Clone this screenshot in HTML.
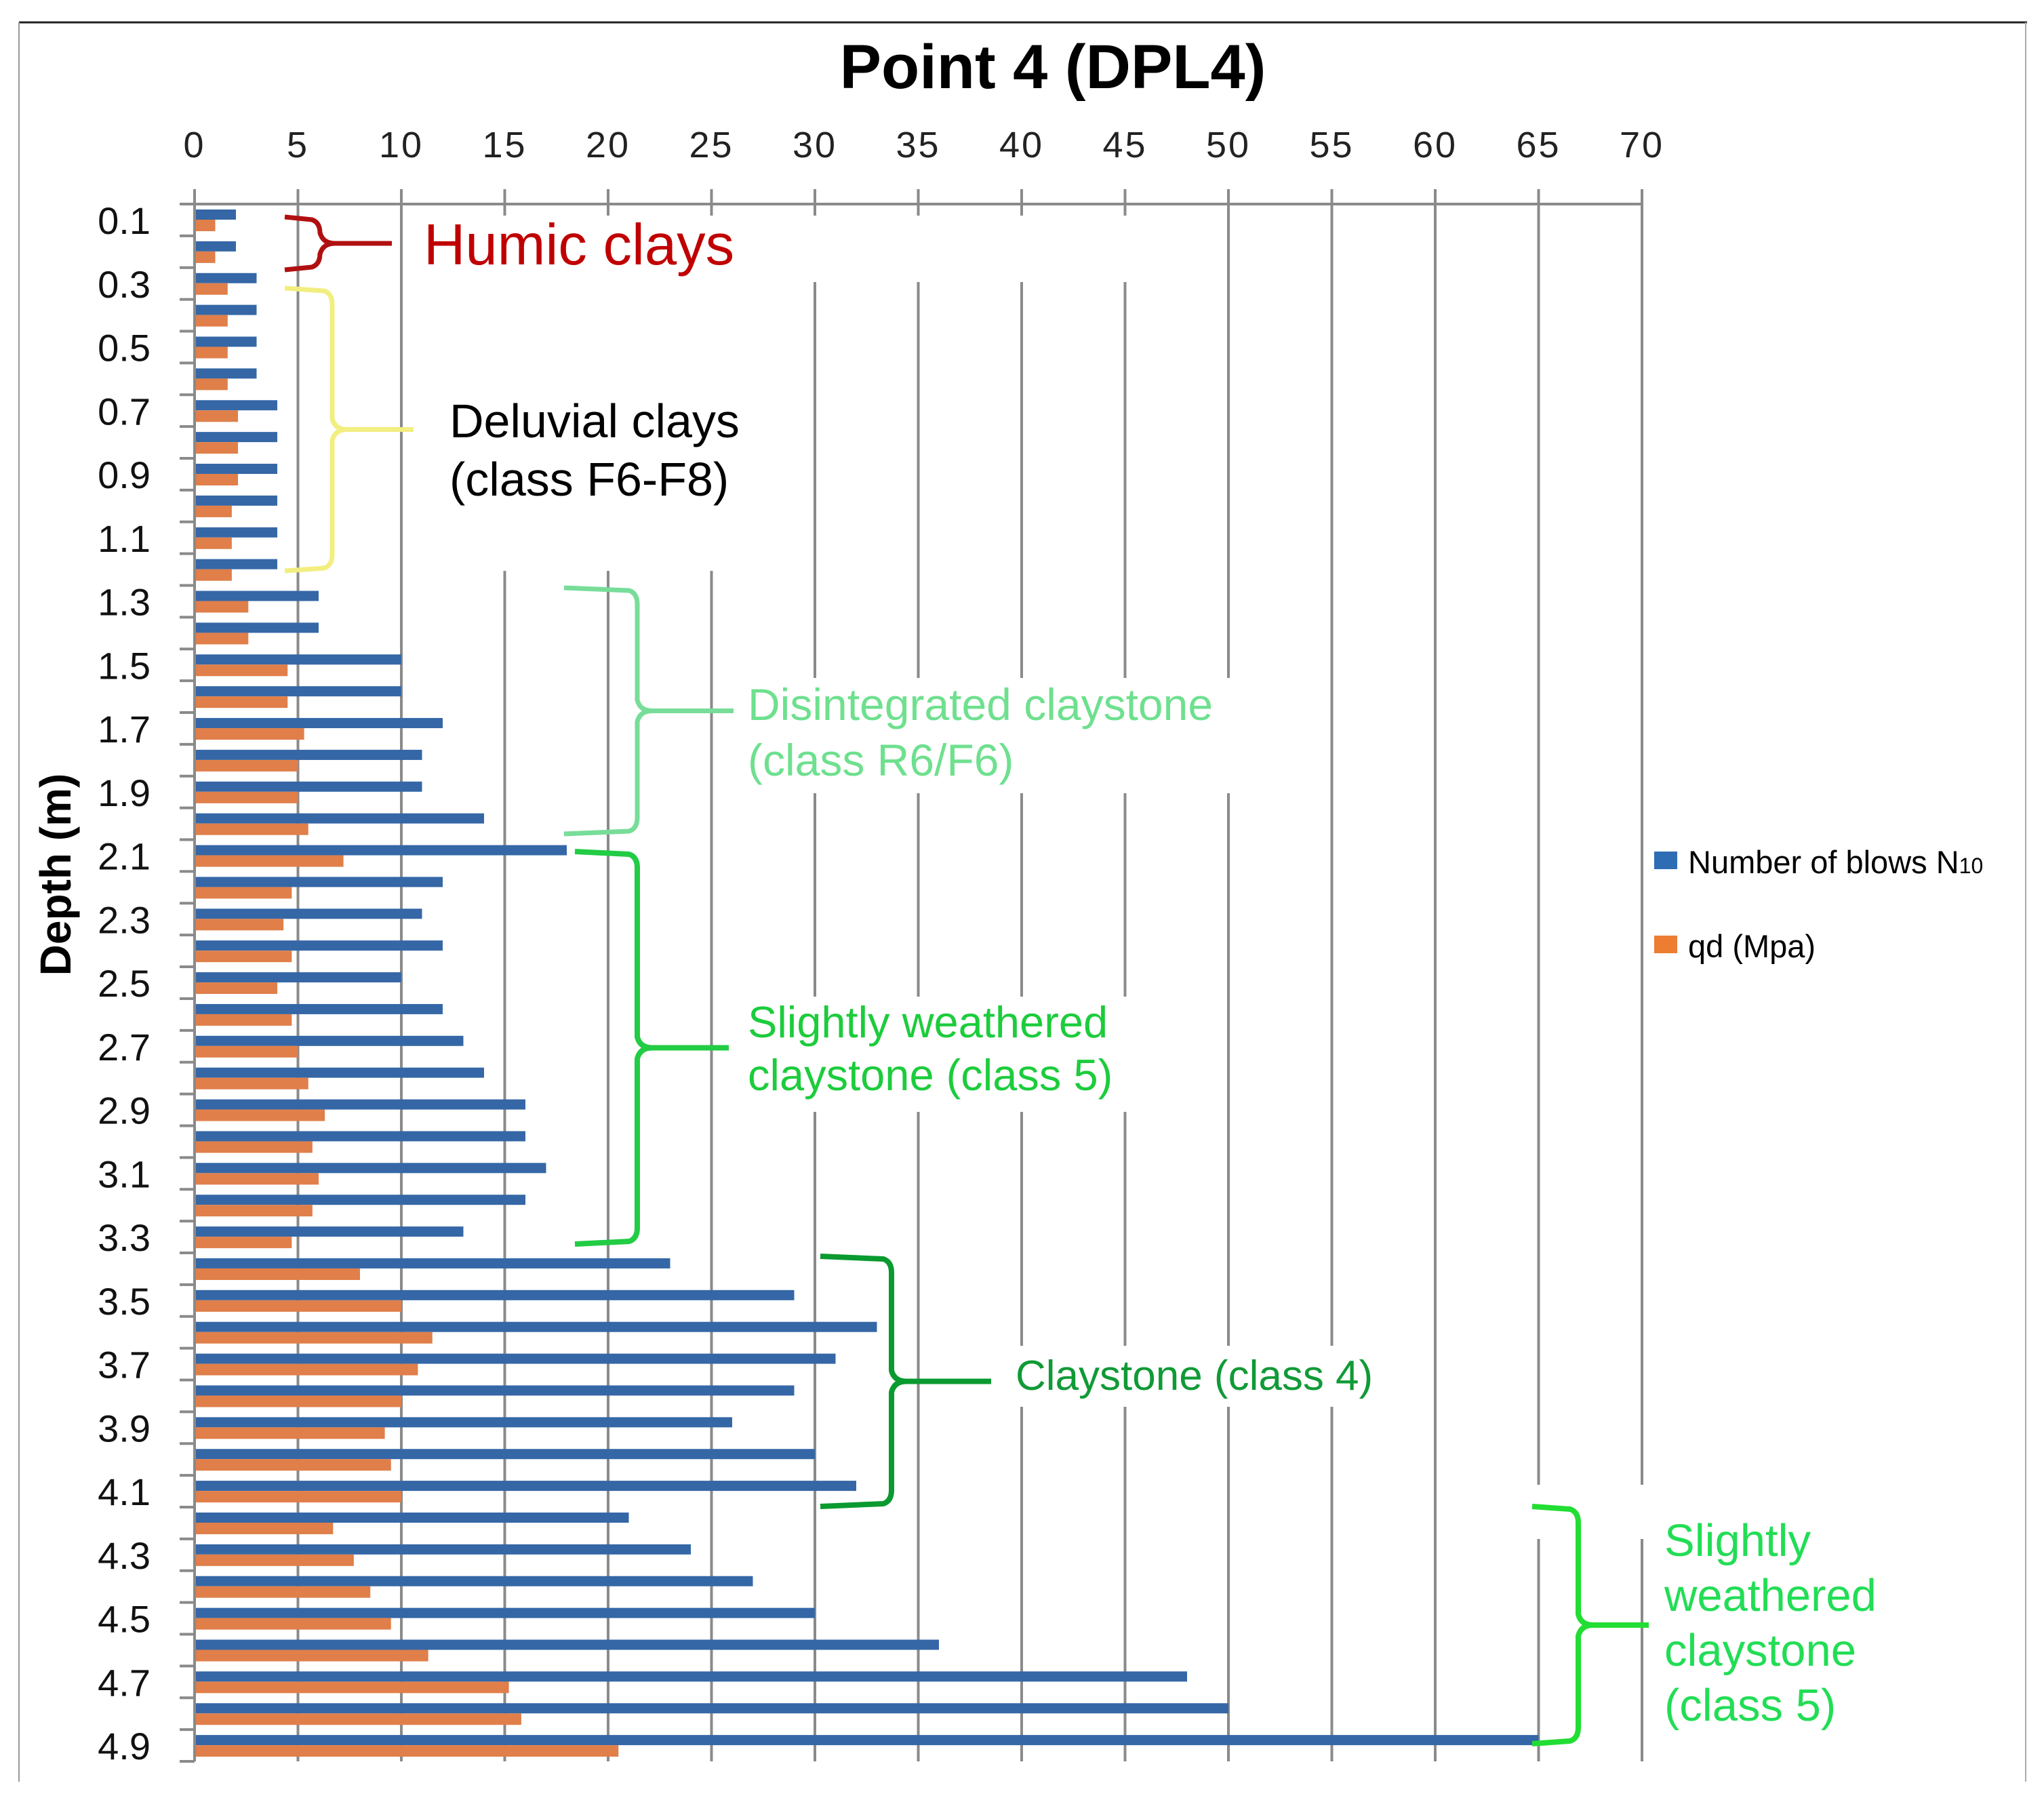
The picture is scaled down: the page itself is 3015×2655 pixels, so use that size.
<!DOCTYPE html>
<html><head><meta charset="utf-8"><style>
html,body{margin:0;padding:0;background:#fff;}
svg{display:block;font-family:"Liberation Sans",sans-serif;}
</style></head><body>
<svg id="chart" width="3015" height="2655" viewBox="0 0 3015 2655" xmlns="http://www.w3.org/2000/svg">
<rect x="0" y="0" width="3015" height="2655" fill="#fff"/>
<line x1="28" y1="33" x2="2990" y2="33" stroke="#222" stroke-width="3"/>
<line x1="28" y1="33" x2="28" y2="2628" stroke="#999" stroke-width="2"/>
<line x1="2988" y1="33" x2="2988" y2="2628" stroke="#aaa" stroke-width="2"/>
<text x="1553" y="130" font-size="92" font-weight="bold" text-anchor="middle" fill="#000">Point 4 (DPL4)</text>
<g id="grid"></g>
<g id="masks"></g>
<g id="bars"></g>
<g id="axes"></g>
<text transform="translate(104,1290) rotate(-90)" font-size="64" font-weight="bold" text-anchor="middle" fill="#000">Depth (m)</text>
<g>
<rect x="2440" y="1256" width="34" height="26" fill="#2e6db4"/>
<text x="2490" y="1288" font-size="47" fill="#000">Number of blows N<tspan font-size="32">10</tspan></text>
<rect x="2440" y="1380" width="34" height="26" fill="#ed7d31"/>
<text x="2490" y="1412" font-size="47" fill="#000">qd (Mpa)</text>
</g>
<g id="annotations"></g>
</svg>
<script>
const depths = ["0.1","0.2","0.3","0.4","0.5","0.6","0.7","0.8","0.9","1.0","1.1","1.2","1.3","1.4","1.5","1.6","1.7","1.8","1.9","2.0","2.1","2.2","2.3","2.4","2.5","2.6","2.7","2.8","2.9","3.0","3.1","3.2","3.3","3.4","3.5","3.6","3.7","3.8","3.9","4.0","4.1","4.2","4.3","4.4","4.5","4.6","4.7","4.8","4.9"];
const blows = [2,2,3,3,3,3,4,4,4,4,4,4,6,6,10,10,12,11,11,14,18,12,11,12,10,12,13,14,16,16,17,16,13,23,29,33,31,29,26,30,32,21,24,27,30,36,48,50,65];
const qd = [1,1,1.6,1.6,1.6,1.6,2.1,2.1,2.1,1.8,1.8,1.8,2.6,2.6,4.5,4.5,5.3,5,5,5.5,7.2,4.7,4.3,4.7,4,4.7,5,5.5,6.3,5.7,6,5.7,4.7,8,10,11.5,10.8,10,9.2,9.5,10,6.7,7.7,8.5,9.5,11.3,15.2,15.8,20.5];
const xTicks = [0,5,10,15,20,25,30,35,40,45,50,55,60,65,70];

const NS = "http://www.w3.org/2000/svg";
const X0 = 287, PXU = 30.5, Y0 = 301, Y1 = 2598;
const band = (Y1 - Y0) / depths.length;
function xs(v){ return X0 + v * PXU; }
function ys(i){ return Y0 + i * band; }
function mk(tag, attrs, parent){
  const e = document.createElementNS(NS, tag);
  for (const k in attrs) e.setAttribute(k, attrs[k]);
  parent.appendChild(e); return e;
}
const grid = document.getElementById('grid');
const axes = document.getElementById('axes');
const bars = document.getElementById('bars');
const masks = document.getElementById('masks');
const ann = document.getElementById('annotations');

xTicks.forEach(t => {
  const x = xs(t);
  if (t > 0) {
    const gl = mk('line', {x1:x, y1:Y0, x2:x, y2:Y1, stroke:'#8a8a8a', 'stroke-width':4}, grid);
    
    
  }
  const tk = mk('line', {x1:x, y1:Y0-22, x2:x, y2:Y0, stroke:'#8a8a8a', 'stroke-width':4}, axes);
  
  
  const lb = mk('text', {x:x, y:232, 'font-size':54, 'text-anchor':'middle', fill:'#222', 'letter-spacing':3}, axes);
  lb.textContent = t;
  
  
});
const topAxis = mk('line', {x1:X0-20, y1:Y0, x2:xs(70), y2:Y0, stroke:'#8a8a8a', 'stroke-width':4}, axes);


const leftAxis = mk('line', {x1:X0, y1:Y0, x2:X0, y2:Y1, stroke:'#8a8a8a', 'stroke-width':4}, axes);



// white gaps behind annotations (gridline interruptions)
[[600,318,1100,98],[600,412,520,430],[1095,1000,780,170],[1095,1470,570,170],[1490,1985,560,90],[2200,2190,440,80]].forEach((r,i)=>{
  const m = mk('rect', {x:r[0], y:r[1], width:r[2], height:r[3], fill:'#fff'}, masks);
  
  
});

for (let i = 0; i <= depths.length; i++) {
  const t = mk('line', {x1:X0-22, y1:ys(i), x2:X0, y2:ys(i), stroke:'#8a8a8a', 'stroke-width':4}, axes);
  
  
}
depths.forEach((d, i) => {
  const top = ys(i);
  const b = mk('rect', {x:X0, y:top+8, width:xs(blows[i])-X0, height:15, fill:'#3567a6'}, bars);
  
  
  const q = mk('rect', {x:X0, y:top+23, width:xs(qd[i])-X0, height:17, fill:'#e07f4a'}, bars);
  
  
  if (i % 2 === 0) {
    const l = mk('text', {x:222, y:top+44, 'font-size':56, 'text-anchor':'end', fill:'#111'}, axes);
    l.textContent = d;
    
    
  }
});

function brace(name, x0, x1, xm, yt, yb, color, w){
  const ym = (yt + yb) / 2;
  const d = `M${x0},${yt} L${x1-12},${yt+4} Q${x1},${yt+8} ${x1},${yt+24} L${x1},${ym-16} Q${x1+4},${ym} ${x1+22},${ym} L${xm},${ym} M${x1+22},${ym} Q${x1+4},${ym} ${x1},${ym+16} L${x1},${yb-24} Q${x1},${yb-8} ${x1-12},${yb-4} L${x0},${yb}`;
  const p = mk('path', {d:d, fill:'none', stroke:color, 'stroke-width':w, 'stroke-linejoin':'round'}, ann);
  
  
}
function label(name, x, y, lines, size, color, lh){
  lines.forEach((s, k) => {
    const t = mk('text', {x:x, y:y + k*lh, 'font-size':size, fill:color}, ann);
    t.textContent = s;
    
    
  });
}
brace('humic-clays-brace', 420, 472, 578, 320, 398, '#b01010', 7);
label('humic-clays-label', 625, 390, ['Humic clays'], 85, '#c00000', 0);
brace('deluvial-clays-brace', 420, 490, 610, 425, 842, '#f2ee80', 7);
label('deluvial-clays-label', 663, 645, ['Deluvial clays','(class F6-F8)'], 70, '#000', 86);
brace('disintegrated-claystone-brace', 832, 940, 1082, 867, 1230, '#77dd99', 7);
label('disintegrated-claystone-label', 1103, 1062, ['Disintegrated  claystone','(class R6/F6)'], 66, '#6ee08e', 82);
brace('slightly-weathered-brace-1', 848, 940, 1075, 1256, 1835, '#22cc44', 8);
label('slightly-weathered-label-1', 1103, 1530, ['Slightly weathered','claystone (class 5)'], 65, '#1ccc3c', 78);
brace('claystone-class4-brace', 1210, 1315, 1462, 1853, 2222, '#0a9a30', 8);
label('claystone-class4-label', 1498, 2050, ['Claystone (class 4)'], 62, '#109a36', 0);
brace('slightly-weathered-brace-2', 2260, 2328, 2432, 2222, 2572, '#22dd33', 8);
label('slightly-weathered-label-2', 2455, 2295, ['Slightly','weathered','claystone','(class 5)'], 67, '#22dd55', 81);
</script>
</body></html>
